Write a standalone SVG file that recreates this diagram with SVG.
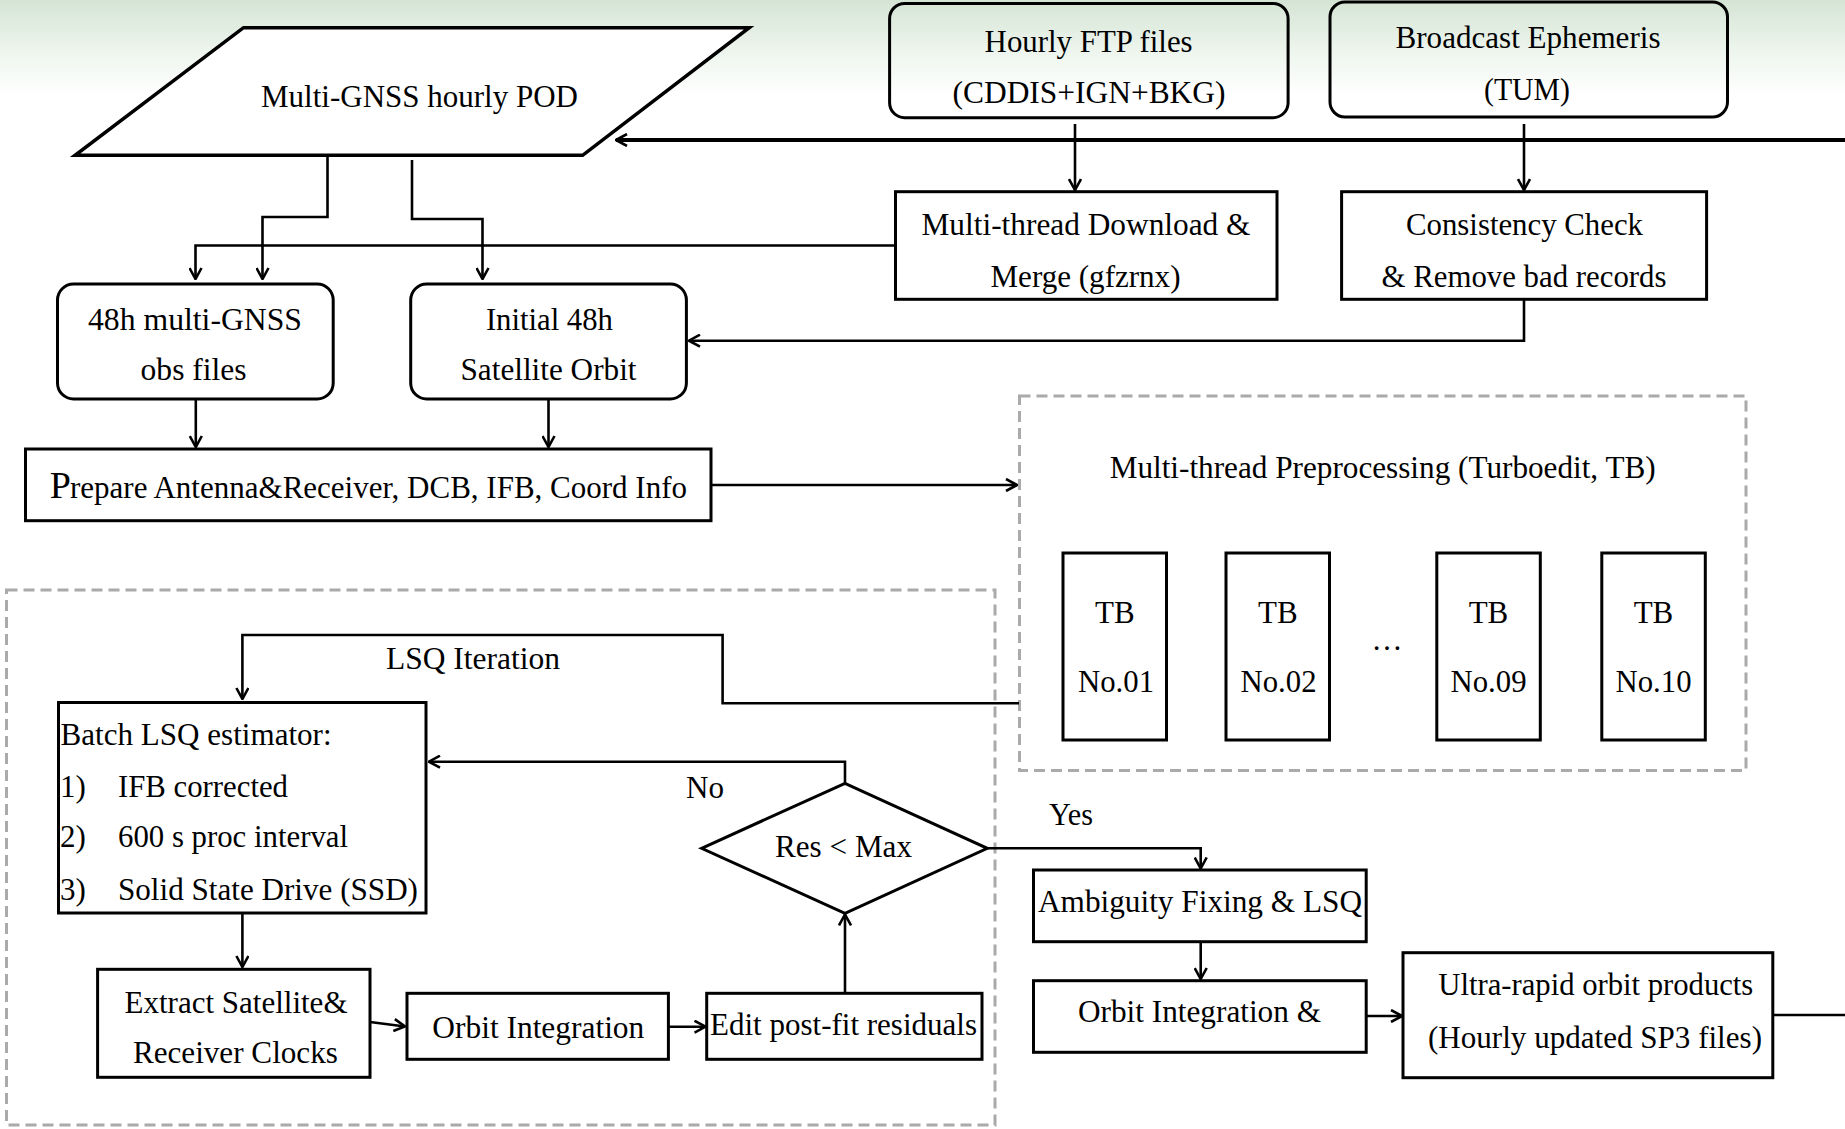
<svg xmlns="http://www.w3.org/2000/svg" width="1845" height="1129" viewBox="0 0 1845 1129">
<style>
text{font-family:'Liberation Serif','Times New Roman',serif;font-size:31px;fill:#000}
.c{text-anchor:middle}
.box{fill:#fff;stroke:#000;stroke-width:3}
.rbox{fill:none;stroke:#000;stroke-width:3}
.dash{fill:none;stroke:#aaa;stroke-width:3;stroke-dasharray:11 6}
.ln{fill:none;stroke:#000;stroke-width:2.6;marker-end:url(#ah)}
.ln0{fill:none;stroke:#000;stroke-width:2.6}
</style>
<defs>
<linearGradient id="bg" x1="0" y1="0" x2="0" y2="95" gradientUnits="userSpaceOnUse">
<stop offset="0" stop-color="#d4e4d4"/>
<stop offset="0.5" stop-color="#ecf4ec"/>
<stop offset="1" stop-color="#ffffff"/>
</linearGradient>
<marker id="ah" viewBox="0 0 13 14" refX="12" refY="7" markerWidth="13" markerHeight="14" markerUnits="userSpaceOnUse" orient="auto">
<path d="M1,1 L12,7 L1,13" fill="none" stroke="#000" stroke-width="2.6"/>
</marker>
</defs>
<rect x="0" y="0" width="1845" height="1129" fill="#fff"/>
<rect x="0" y="0" width="1845" height="100" fill="url(#bg)"/>

<g id="dashed-groups">
<rect class="dash" x="6.5" y="590" width="988.5" height="535"/>
<rect class="dash" x="1019.5" y="396" width="726.5" height="374.5"/>
</g>

<g id="connectors">
<line x1="1845" y1="140" x2="616" y2="140" stroke="#000" stroke-width="4" marker-end="url(#ah)"/>
<path class="ln" d="M1075,124 V190"/>
<path class="ln" d="M1524,124 V190"/>
<path class="ln" d="M327.5,155 V217 H262.5 V279"/>
<path class="ln" d="M412,160 V219 H482.5 V279"/>
<path class="ln" d="M895.5,245.5 H195.5 V279"/>
<path class="ln" d="M1524,299 V340.7 H689"/>
<path class="ln" d="M195.8,399 V447"/>
<path class="ln" d="M548.5,399 V447"/>
<path class="ln" d="M711,485 H1017"/>
<path class="ln" d="M1019,703.3 H722.6 V635 H242.4 V699"/>
<path class="ln" d="M242.4,913 V967"/>
<path class="ln" d="M370,1022 L405,1026.5"/>
<path class="ln" d="M668,1026.7 H705.5"/>
<path class="ln" d="M845,993 V914.5"/>
<path class="ln" d="M845,783 V761.7 H429"/>
<path class="ln" d="M987,848.3 H1200.7 V868.5"/>
<path class="ln" d="M1200.7,941.7 V979"/>
<path class="ln" d="M1366,1016 H1402"/>
<path class="ln0" d="M1773,1015 H1845"/>
</g>

<g id="node-pod">
<polygon points="243.5,27.7 749.2,27.7 582.6,155.3 75.1,155.3" fill="#fff" stroke="#000" stroke-width="3.5"/>
<text class="c" x="419.5" y="106.5" textLength="317" lengthAdjust="spacingAndGlyphs">Multi-GNSS hourly POD</text>
</g>
<g id="node-ftp">
<rect class="rbox" x="889.6" y="3.5" width="398.5" height="114.2" rx="15"/>
<text class="c" x="1088.6" y="52" textLength="208" lengthAdjust="spacingAndGlyphs">Hourly FTP files</text>
<text class="c" x="1089" y="103" textLength="273" lengthAdjust="spacingAndGlyphs">(CDDIS+IGN+BKG)</text>
</g>
<g id="node-brdc">
<rect class="rbox" x="1330" y="2" width="397.5" height="115" rx="15"/>
<text class="c" x="1528" y="48" textLength="265" lengthAdjust="spacingAndGlyphs">Broadcast Ephemeris</text>
<text class="c" x="1527" y="100" textLength="86" lengthAdjust="spacingAndGlyphs">(TUM)</text>
</g>
<g id="node-download">
<rect class="box" x="895.5" y="191.7" width="381.5" height="107.6"/>
<text class="c" x="1086" y="235" textLength="329" lengthAdjust="spacingAndGlyphs">Multi-thread Download &amp;</text>
<text class="c" x="1085.5" y="286.5" textLength="190" lengthAdjust="spacingAndGlyphs">Merge (gfzrnx)</text>
</g>
<g id="node-consistency">
<rect class="box" x="1341.6" y="191.7" width="365" height="107.6"/>
<text class="c" x="1524.5" y="235" textLength="237" lengthAdjust="spacingAndGlyphs">Consistency Check</text>
<text class="c" x="1524" y="286.5" textLength="285" lengthAdjust="spacingAndGlyphs">&amp; Remove bad records</text>
</g>
<g id="node-obs">
<rect class="box" x="57.5" y="284" width="275.7" height="115" rx="16"/>
<text class="c" x="195" y="330" textLength="214" lengthAdjust="spacingAndGlyphs">48h multi-GNSS</text>
<text class="c" x="193.6" y="380" textLength="106" lengthAdjust="spacingAndGlyphs">obs files</text>
</g>
<g id="node-orbit0">
<rect class="box" x="410.7" y="284" width="275.7" height="115" rx="16"/>
<text class="c" x="549.4" y="330" textLength="127" lengthAdjust="spacingAndGlyphs">Initial 48h</text>
<text class="c" x="548.5" y="380" textLength="176" lengthAdjust="spacingAndGlyphs">Satellite Orbit</text>
</g>
<g id="node-prepare">
<rect class="box" x="25.5" y="449" width="685.5" height="71.7"/>
<text x="49.7" y="498" style="font-size:38px">P</text>
<text x="70" y="498" textLength="617" lengthAdjust="spacingAndGlyphs">repare Antenna&amp;Receiver, DCB, IFB, Coord Info</text>
</g>
<g id="node-preproc">
<text class="c" x="1382.7" y="478.3" textLength="546" lengthAdjust="spacingAndGlyphs">Multi-thread Preprocessing (Turboedit, TB)</text>
<text class="c" x="1387" y="650">…</text>
</g>
<g id="node-tb01">
<rect class="box" x="1063" y="553" width="103.5" height="187"/>
<text class="c" x="1114.8" y="623">TB</text>
<text class="c" x="1116" y="691.7" textLength="76" lengthAdjust="spacingAndGlyphs">No.01</text>
</g>
<g id="node-tb02">
<rect class="box" x="1226" y="553" width="103.5" height="187"/>
<text class="c" x="1277.8" y="623">TB</text>
<text class="c" x="1278.5" y="691.7" textLength="76" lengthAdjust="spacingAndGlyphs">No.02</text>
</g>
<g id="node-tb09">
<rect class="box" x="1436.8" y="553" width="103.5" height="187"/>
<text class="c" x="1488.5" y="623">TB</text>
<text class="c" x="1488.5" y="691.7" textLength="76" lengthAdjust="spacingAndGlyphs">No.09</text>
</g>
<g id="node-tb10">
<rect class="box" x="1601.8" y="553" width="103.5" height="187"/>
<text class="c" x="1653.5" y="623">TB</text>
<text class="c" x="1653.5" y="691.7" textLength="76" lengthAdjust="spacingAndGlyphs">No.10</text>
</g>
<g id="label-lsq">
<text class="c" x="473" y="669" textLength="174" lengthAdjust="spacingAndGlyphs">LSQ Iteration</text>
</g>
<g id="node-batch">
<rect class="box" x="58.5" y="702.5" width="367.5" height="210.5"/>
<text x="60.6" y="745" textLength="271" lengthAdjust="spacingAndGlyphs">Batch LSQ estimator:</text>
<text x="60" y="797">1)</text>
<text x="118" y="797" textLength="170" lengthAdjust="spacingAndGlyphs">IFB corrected</text>
<text x="60" y="847">2)</text>
<text x="118" y="847" textLength="230" lengthAdjust="spacingAndGlyphs">600 s proc interval</text>
<text x="60" y="900">3)</text>
<text x="118" y="900" textLength="300" lengthAdjust="spacingAndGlyphs">Solid State Drive (SSD)</text>
</g>
<g id="node-extract">
<rect class="box" x="97.6" y="969.3" width="272.4" height="108"/>
<text class="c" x="236" y="1013" textLength="223" lengthAdjust="spacingAndGlyphs">Extract Satellite&amp;</text>
<text class="c" x="235.4" y="1063" textLength="205" lengthAdjust="spacingAndGlyphs">Receiver Clocks</text>
</g>
<g id="node-orbitint">
<rect class="box" x="407" y="993.3" width="261.4" height="66"/>
<text class="c" x="538.3" y="1038" textLength="212" lengthAdjust="spacingAndGlyphs">Orbit Integration</text>
</g>
<g id="node-edit">
<rect class="box" x="706.7" y="993.3" width="275.3" height="66"/>
<text class="c" x="843.5" y="1035" textLength="267" lengthAdjust="spacingAndGlyphs">Edit post-fit residuals</text>
</g>
<g id="node-res">
<polygon points="701.6,848.3 845,783.3 987.3,848.3 845,913.3" fill="#fff" stroke="#000" stroke-width="3"/>
<text class="c" x="843.5" y="857" textLength="137" lengthAdjust="spacingAndGlyphs">Res &lt; Max</text>
</g>
<g id="labels-branch">
<text class="c" x="705" y="798" textLength="38" lengthAdjust="spacingAndGlyphs">No</text>
<text class="c" x="1071" y="825" textLength="44" lengthAdjust="spacingAndGlyphs">Yes</text>
</g>
<g id="node-ambiguity">
<rect class="box" x="1033.5" y="870" width="332.7" height="71.7"/>
<text class="c" x="1200" y="912" textLength="324" lengthAdjust="spacingAndGlyphs">Ambiguity Fixing &amp; LSQ</text>
</g>
<g id="node-orbitint2">
<rect class="box" x="1033.5" y="980.7" width="332.7" height="71.6"/>
<text class="c" x="1199.5" y="1022" textLength="243" lengthAdjust="spacingAndGlyphs">Orbit Integration &amp;</text>
</g>
<g id="node-ultra">
<rect class="box" x="1403" y="952.7" width="369.8" height="125"/>
<text class="c" x="1595.8" y="995" textLength="315" lengthAdjust="spacingAndGlyphs">Ultra-rapid orbit products</text>
<text class="c" x="1595" y="1048" textLength="334" lengthAdjust="spacingAndGlyphs">(Hourly updated SP3 files)</text>
</g>
</svg>
